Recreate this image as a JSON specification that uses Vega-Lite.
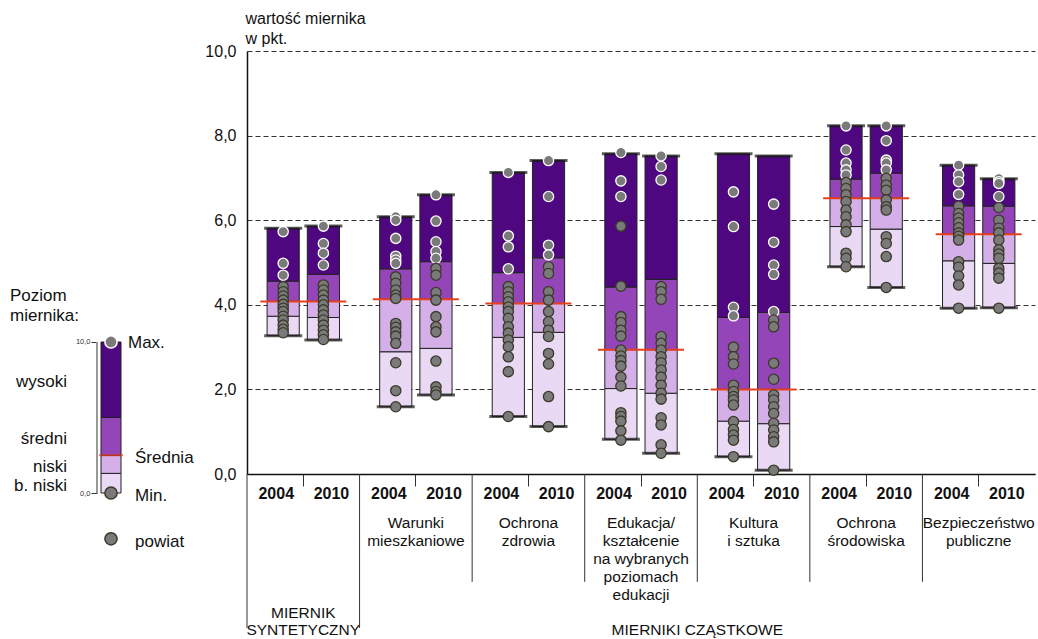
{
  "$schema": "https://vega.github.io/schema/vega-lite/v6.json",
  "padding": {"left": 10, "top": 10, "right": 2, "bottom": 0},
  "bounds": "flush",
  "spacing": 122,
  "config": {"font": "Liberation Sans", "view": {"stroke": null}, "text": {"color": "#111"}},
  "datasets": {
    "bars": [
      {"id": "G1-2004", "group": "Miernik syntetyczny", "year": "2004", "min": 3.27, "b1": 3.73, "mean": 4.08, "b3": 4.56, "max": 5.81},
      {"id": "G1-2010", "group": "Miernik syntetyczny", "year": "2010", "min": 3.17, "b1": 3.70, "mean": 4.08, "b3": 4.72, "max": 5.86},
      {"id": "G2-2004", "group": "Warunki mieszkaniowe", "year": "2004", "min": 1.59, "b1": 2.89, "mean": 4.13, "b3": 4.85, "max": 6.08},
      {"id": "G2-2010", "group": "Warunki mieszkaniowe", "year": "2010", "min": 1.87, "b1": 2.97, "mean": 4.13, "b3": 5.02, "max": 6.60},
      {"id": "G3-2004", "group": "Ochrona zdrowia", "year": "2004", "min": 1.36, "b1": 3.23, "mean": 4.03, "b3": 4.76, "max": 7.13},
      {"id": "G3-2010", "group": "Ochrona zdrowia", "year": "2010", "min": 1.12, "b1": 3.35, "mean": 4.03, "b3": 5.11, "max": 7.41},
      {"id": "G4-2004", "group": "Edukacja/kształcenie na wybranych poziomach edukacji", "year": "2004", "min": 0.82, "b1": 2.02, "mean": 2.94, "b3": 4.42, "max": 7.57},
      {"id": "G4-2010", "group": "Edukacja/kształcenie na wybranych poziomach edukacji", "year": "2010", "min": 0.49, "b1": 1.91, "mean": 2.94, "b3": 4.60, "max": 7.52},
      {"id": "G5-2004", "group": "Kultura i sztuka", "year": "2004", "min": 0.41, "b1": 1.25, "mean": 2.00, "b3": 3.70, "max": 7.57},
      {"id": "G5-2010", "group": "Kultura i sztuka", "year": "2010", "min": 0.09, "b1": 1.19, "mean": 2.00, "b3": 3.82, "max": 7.52},
      {"id": "G6-2004", "group": "Ochrona środowiska", "year": "2004", "min": 4.90, "b1": 5.85, "mean": 6.52, "b3": 6.97, "max": 8.23},
      {"id": "G6-2010", "group": "Ochrona środowiska", "year": "2010", "min": 4.41, "b1": 5.79, "mean": 6.52, "b3": 7.11, "max": 8.23},
      {"id": "G7-2004", "group": "Bezpieczeństwo publiczne", "year": "2004", "min": 3.92, "b1": 5.04, "mean": 5.67, "b3": 6.34, "max": 7.30},
      {"id": "G7-2010", "group": "Bezpieczeństwo publiczne", "year": "2010", "min": 3.93, "b1": 4.98, "mean": 5.67, "b3": 6.33, "max": 6.98}
    ],
    "groups": [
      {"group": "Miernik syntetyczny", "label": ["MIERNIK", "SYNTETYCZNY"]},
      {"group": "Warunki mieszkaniowe", "label": ["Warunki", "mieszkaniowe"]},
      {"group": "Ochrona zdrowia", "label": ["Ochrona", "zdrowia"]},
      {"group": "Edukacja/kształcenie na wybranych poziomach edukacji", "label": ["Edukacja/", "kształcenie", "na wybranych", "poziomach", "edukacji"]},
      {"group": "Kultura i sztuka", "label": ["Kultura", "i sztuka"]},
      {"group": "Ochrona środowiska", "label": ["Ochrona", "środowiska"]},
      {"group": "Bezpieczeństwo publiczne", "label": ["Bezpieczeństwo", "publiczne"]}
    ],
    "sections": [{"section": "MIERNIKI CZĄSTKOWE"}],
    "points": [
      {"id": "G1-2004", "v": 5.73}, {"id": "G1-2004", "v": 4.98}, {"id": "G1-2004", "v": 4.70}, {"id": "G1-2004", "v": 4.43}, {"id": "G1-2004", "v": 4.31}, {"id": "G1-2004", "v": 4.21}, {"id": "G1-2004", "v": 4.11}, {"id": "G1-2004", "v": 4.01}, {"id": "G1-2004", "v": 3.92}, {"id": "G1-2004", "v": 3.84}, {"id": "G1-2004", "v": 3.73}, {"id": "G1-2004", "v": 3.64}, {"id": "G1-2004", "v": 3.52}, {"id": "G1-2004", "v": 3.42}, {"id": "G1-2004", "v": 3.34},
      {"id": "G1-2010", "v": 5.86}, {"id": "G1-2010", "v": 5.45}, {"id": "G1-2010", "v": 5.22}, {"id": "G1-2010", "v": 4.94}, {"id": "G1-2010", "v": 4.47}, {"id": "G1-2010", "v": 4.35}, {"id": "G1-2010", "v": 4.23}, {"id": "G1-2010", "v": 4.11}, {"id": "G1-2010", "v": 4.00}, {"id": "G1-2010", "v": 3.88}, {"id": "G1-2010", "v": 3.76}, {"id": "G1-2010", "v": 3.64}, {"id": "G1-2010", "v": 3.52}, {"id": "G1-2010", "v": 3.40}, {"id": "G1-2010", "v": 3.29}, {"id": "G1-2010", "v": 3.18},
      {"id": "G2-2004", "v": 6.08}, {"id": "G2-2004", "v": 6.00}, {"id": "G2-2004", "v": 5.57}, {"id": "G2-2004", "v": 5.15}, {"id": "G2-2004", "v": 5.06}, {"id": "G2-2004", "v": 4.98}, {"id": "G2-2004", "v": 4.66}, {"id": "G2-2004", "v": 4.51}, {"id": "G2-2004", "v": 4.35}, {"id": "G2-2004", "v": 4.23}, {"id": "G2-2004", "v": 4.15}, {"id": "G2-2004", "v": 3.56}, {"id": "G2-2004", "v": 3.47}, {"id": "G2-2004", "v": 3.36}, {"id": "G2-2004", "v": 3.26}, {"id": "G2-2004", "v": 3.09}, {"id": "G2-2004", "v": 2.63}, {"id": "G2-2004", "v": 1.97}, {"id": "G2-2004", "v": 1.59},
      {"id": "G2-2010", "v": 6.60}, {"id": "G2-2010", "v": 5.98}, {"id": "G2-2010", "v": 5.49}, {"id": "G2-2010", "v": 5.26}, {"id": "G2-2010", "v": 5.10}, {"id": "G2-2010", "v": 4.86}, {"id": "G2-2010", "v": 4.70}, {"id": "G2-2010", "v": 4.29}, {"id": "G2-2010", "v": 4.11}, {"id": "G2-2010", "v": 3.72}, {"id": "G2-2010", "v": 3.48}, {"id": "G2-2010", "v": 3.36}, {"id": "G2-2010", "v": 2.67}, {"id": "G2-2010", "v": 2.06}, {"id": "G2-2010", "v": 1.95}, {"id": "G2-2010", "v": 1.87},
      {"id": "G3-2004", "v": 7.13}, {"id": "G3-2004", "v": 5.63}, {"id": "G3-2004", "v": 5.37}, {"id": "G3-2004", "v": 4.85}, {"id": "G3-2004", "v": 4.43}, {"id": "G3-2004", "v": 4.31}, {"id": "G3-2004", "v": 4.19}, {"id": "G3-2004", "v": 4.07}, {"id": "G3-2004", "v": 3.95}, {"id": "G3-2004", "v": 3.84}, {"id": "G3-2004", "v": 3.68}, {"id": "G3-2004", "v": 3.48}, {"id": "G3-2004", "v": 3.33}, {"id": "G3-2004", "v": 3.17}, {"id": "G3-2004", "v": 3.01}, {"id": "G3-2004", "v": 2.77}, {"id": "G3-2004", "v": 2.42}, {"id": "G3-2004", "v": 1.36},
      {"id": "G3-2010", "v": 7.41}, {"id": "G3-2010", "v": 6.56}, {"id": "G3-2010", "v": 5.41}, {"id": "G3-2010", "v": 5.18}, {"id": "G3-2010", "v": 4.90}, {"id": "G3-2010", "v": 4.74}, {"id": "G3-2010", "v": 4.31}, {"id": "G3-2010", "v": 4.11}, {"id": "G3-2010", "v": 3.84}, {"id": "G3-2010", "v": 3.60}, {"id": "G3-2010", "v": 3.40}, {"id": "G3-2010", "v": 3.25}, {"id": "G3-2010", "v": 2.85}, {"id": "G3-2010", "v": 2.60}, {"id": "G3-2010", "v": 1.83}, {"id": "G3-2010", "v": 1.12},
      {"id": "G4-2004", "v": 7.60}, {"id": "G4-2004", "v": 6.93}, {"id": "G4-2004", "v": 6.56}, {"id": "G4-2004", "v": 5.86}, {"id": "G4-2004", "v": 4.44}, {"id": "G4-2004", "v": 3.72}, {"id": "G4-2004", "v": 3.58}, {"id": "G4-2004", "v": 3.40}, {"id": "G4-2004", "v": 3.26}, {"id": "G4-2004", "v": 2.93}, {"id": "G4-2004", "v": 2.79}, {"id": "G4-2004", "v": 2.68}, {"id": "G4-2004", "v": 2.55}, {"id": "G4-2004", "v": 2.29}, {"id": "G4-2004", "v": 2.08}, {"id": "G4-2004", "v": 1.45}, {"id": "G4-2004", "v": 1.36}, {"id": "G4-2004", "v": 1.25}, {"id": "G4-2004", "v": 1.02}, {"id": "G4-2004", "v": 0.80},
      {"id": "G4-2010", "v": 7.52}, {"id": "G4-2010", "v": 7.27}, {"id": "G4-2010", "v": 6.95}, {"id": "G4-2010", "v": 4.43}, {"id": "G4-2010", "v": 4.31}, {"id": "G4-2010", "v": 4.13}, {"id": "G4-2010", "v": 3.25}, {"id": "G4-2010", "v": 3.09}, {"id": "G4-2010", "v": 2.93}, {"id": "G4-2010", "v": 2.77}, {"id": "G4-2010", "v": 2.63}, {"id": "G4-2010", "v": 2.46}, {"id": "G4-2010", "v": 2.29}, {"id": "G4-2010", "v": 2.10}, {"id": "G4-2010", "v": 1.91}, {"id": "G4-2010", "v": 1.77}, {"id": "G4-2010", "v": 1.33}, {"id": "G4-2010", "v": 1.16}, {"id": "G4-2010", "v": 0.69}, {"id": "G4-2010", "v": 0.49},
      {"id": "G5-2004", "v": 6.67}, {"id": "G5-2004", "v": 5.85}, {"id": "G5-2004", "v": 3.94}, {"id": "G5-2004", "v": 3.74}, {"id": "G5-2004", "v": 3.00}, {"id": "G5-2004", "v": 2.77}, {"id": "G5-2004", "v": 2.60}, {"id": "G5-2004", "v": 2.10}, {"id": "G5-2004", "v": 1.95}, {"id": "G5-2004", "v": 1.83}, {"id": "G5-2004", "v": 1.75}, {"id": "G5-2004", "v": 1.63}, {"id": "G5-2004", "v": 1.24}, {"id": "G5-2004", "v": 1.05}, {"id": "G5-2004", "v": 0.92}, {"id": "G5-2004", "v": 0.80}, {"id": "G5-2004", "v": 0.41},
      {"id": "G5-2010", "v": 6.38}, {"id": "G5-2010", "v": 5.48}, {"id": "G5-2010", "v": 4.94}, {"id": "G5-2010", "v": 4.72}, {"id": "G5-2010", "v": 3.84}, {"id": "G5-2010", "v": 3.64}, {"id": "G5-2010", "v": 3.48}, {"id": "G5-2010", "v": 2.62}, {"id": "G5-2010", "v": 2.24}, {"id": "G5-2010", "v": 1.87}, {"id": "G5-2010", "v": 1.75}, {"id": "G5-2010", "v": 1.59}, {"id": "G5-2010", "v": 1.43}, {"id": "G5-2010", "v": 1.20}, {"id": "G5-2010", "v": 1.04}, {"id": "G5-2010", "v": 0.88}, {"id": "G5-2010", "v": 0.76}, {"id": "G5-2010", "v": 0.09},
      {"id": "G6-2004", "v": 8.23}, {"id": "G6-2004", "v": 7.66}, {"id": "G6-2004", "v": 7.35}, {"id": "G6-2004", "v": 7.19}, {"id": "G6-2004", "v": 7.07}, {"id": "G6-2004", "v": 6.89}, {"id": "G6-2004", "v": 6.75}, {"id": "G6-2004", "v": 6.60}, {"id": "G6-2004", "v": 6.44}, {"id": "G6-2004", "v": 6.24}, {"id": "G6-2004", "v": 6.08}, {"id": "G6-2004", "v": 5.89}, {"id": "G6-2004", "v": 5.73}, {"id": "G6-2004", "v": 5.22}, {"id": "G6-2004", "v": 5.10}, {"id": "G6-2004", "v": 4.90},
      {"id": "G6-2010", "v": 8.23}, {"id": "G6-2010", "v": 7.88}, {"id": "G6-2010", "v": 7.42}, {"id": "G6-2010", "v": 7.35}, {"id": "G6-2010", "v": 7.19}, {"id": "G6-2010", "v": 6.99}, {"id": "G6-2010", "v": 6.83}, {"id": "G6-2010", "v": 6.71}, {"id": "G6-2010", "v": 6.48}, {"id": "G6-2010", "v": 6.32}, {"id": "G6-2010", "v": 6.24}, {"id": "G6-2010", "v": 5.61}, {"id": "G6-2010", "v": 5.45}, {"id": "G6-2010", "v": 5.14}, {"id": "G6-2010", "v": 4.41},
      {"id": "G7-2004", "v": 7.30}, {"id": "G7-2004", "v": 7.07}, {"id": "G7-2004", "v": 6.91}, {"id": "G7-2004", "v": 6.61}, {"id": "G7-2004", "v": 6.33}, {"id": "G7-2004", "v": 6.16}, {"id": "G7-2004", "v": 6.05}, {"id": "G7-2004", "v": 5.94}, {"id": "G7-2004", "v": 5.82}, {"id": "G7-2004", "v": 5.70}, {"id": "G7-2004", "v": 5.62}, {"id": "G7-2004", "v": 5.53}, {"id": "G7-2004", "v": 5.02}, {"id": "G7-2004", "v": 4.89}, {"id": "G7-2004", "v": 4.68}, {"id": "G7-2004", "v": 4.47}, {"id": "G7-2004", "v": 3.92},
      {"id": "G7-2010", "v": 6.98}, {"id": "G7-2010", "v": 6.91}, {"id": "G7-2010", "v": 6.87}, {"id": "G7-2010", "v": 6.56}, {"id": "G7-2010", "v": 6.30}, {"id": "G7-2010", "v": 6.00}, {"id": "G7-2010", "v": 5.81}, {"id": "G7-2010", "v": 5.70}, {"id": "G7-2010", "v": 5.53}, {"id": "G7-2010", "v": 5.30}, {"id": "G7-2010", "v": 5.20}, {"id": "G7-2010", "v": 5.10}, {"id": "G7-2010", "v": 4.86}, {"id": "G7-2010", "v": 4.75}, {"id": "G7-2010", "v": 4.63}, {"id": "G7-2010", "v": 3.92}
    ],
    "legendSegments": [
      {"level": "b. niski", "lo": 0, "hi": 1.3},
      {"level": "niski", "lo": 1.3, "hi": 2.5},
      {"level": "średni", "lo": 2.5, "hi": 5},
      {"level": "wysoki", "lo": 5, "hi": 10}
    ],
    "legendItems": [
      {"item": "Max.", "v": 10},
      {"item": "Średnia", "v": 2.5},
      {"item": "Min.", "v": 0},
      {"item": "powiat", "v": -3.03}
    ],
    "legendTitle": [{"title": ["Poziom", "miernika:"]}]
  },
  "hconcat": [
    {
      "width": 28,
      "height": 442,
      "layer": [
        {
          "data": {"name": "legendSegments"},
          "mark": {"type": "bar", "stroke": "#222", "strokeWidth": 1},
          "encoding": {
            "x": {"datum": "legenda", "type": "nominal", "scale": {"paddingInner": 0, "paddingOuter": 0.2}, "axis": null},
            "y": {"field": "lo", "type": "quantitative", "scale": {"domain": [0, 29.27], "nice": false, "zero": false},
              "axis": {"values": [0, 10], "labelExpr": "replace(format(datum.value, '.1f'), '.', ',')", "domain": false, "grid": false, "tickSize": 6, "tickColor": "#333", "labelFontSize": 7.5, "labelColor": "#333", "labelPadding": 1, "title": null}},
            "y2": {"field": "hi"},
            "color": {"field": "level", "type": "nominal", "scale": {"domain": ["b. niski", "niski", "średni", "wysoki"], "range": ["#ead9f5", "#d5b0e8", "#9446b8", "#4f0780"]}, "legend": null}
          }
        },
        {
          "data": {"name": "legendSegments"},
          "mark": {"type": "rule", "color": "#999", "strokeWidth": 2},
          "encoding": {
            "x": {"datum": "legenda", "type": "nominal", "bandPosition": -0.2},
            "y": {"field": "lo", "type": "quantitative", "aggregate": "min"},
            "y2": {"field": "hi", "aggregate": "max"}
          }
        },
        {
          "data": {"name": "legendItems"},
          "transform": [{"filter": "datum.item === 'Średnia'"}],
          "mark": {"type": "tick", "color": "#e8401c", "size": 24, "thickness": 2},
          "encoding": {
            "x": {"datum": "legenda", "type": "nominal"},
            "y": {"field": "v", "type": "quantitative"}
          }
        },
        {
          "data": {"name": "legendItems"},
          "transform": [{"filter": "datum.item !== 'Średnia'"}],
          "mark": {"type": "circle", "size": 150, "fill": "#7a7a7a", "fillOpacity": 1, "strokeWidth": 1.5},
          "encoding": {
            "x": {"datum": "legenda", "type": "nominal"},
            "y": {"field": "v", "type": "quantitative"},
            "stroke": {"condition": {"test": "datum.item === 'Max.'", "value": "#ffffff"}, "value": "#3a3a28"}
          }
        },
        {
          "data": {"name": "legendItems"},
          "transform": [{"filter": "datum.item === 'Max.'"}],
          "mark": {"type": "text", "align": "left", "baseline": "middle", "fontSize": 17, "dx": 7, "dy": 1},
          "encoding": {
            "x": {"datum": "legenda", "type": "nominal", "bandPosition": 1},
            "y": {"field": "v", "type": "quantitative"},
            "text": {"field": "item"}
          }
        },
        {
          "data": {"name": "legendItems"},
          "transform": [{"filter": "datum.item !== 'Max.'"}],
          "mark": {"type": "text", "align": "left", "baseline": "middle", "fontSize": 17, "dx": 14, "dy": 3},
          "encoding": {
            "x": {"datum": "legenda", "type": "nominal", "bandPosition": 1},
            "y": {"field": "v", "type": "quantitative"},
            "text": {"field": "item"}
          }
        },
        {
          "data": {"name": "legendSegments"},
          "transform": [{"fold": ["lo", "hi"], "as": ["bound", "value"]}],
          "mark": {"type": "text", "align": "right", "baseline": "middle", "fontSize": 17, "dx": -34, "dy": 2.5},
          "encoding": {
            "x": {"datum": "legenda", "type": "nominal", "bandPosition": 0},
            "y": {"field": "value", "type": "quantitative", "aggregate": "mean"},
            "text": {"field": "level", "type": "nominal"}
          }
        },
        {
          "data": {"name": "legendTitle"},
          "mark": {"type": "text", "align": "left", "baseline": "alphabetic", "fontSize": 17, "lineHeight": 20, "dx": -91},
          "encoding": {
            "x": {"datum": "legenda", "type": "nominal", "bandPosition": 0},
            "y": {"datum": 12.73, "type": "quantitative"},
            "text": {"field": "title"}
          }
        }
      ]
    },
    {
      "width": 788,
      "height": 423,
      "layer": [
        {
          "data": {"name": "bars"},
          "mark": {"type": "bar", "fill": "#ead9f5", "stroke": "#222", "strokeWidth": 1},
          "encoding": {
            "x": {"field": "group", "type": "nominal",
              "scale": {"domain": ["Miernik syntetyczny", "Warunki mieszkaniowe", "Ochrona zdrowia", "Edukacja/kształcenie na wybranych poziomach edukacji", "Kultura i sztuka", "Ochrona środowiska", "Bezpieczeństwo publiczne"], "paddingInner": 0, "paddingOuter": 0},
              "axis": {"labels": false, "title": null, "tickSize": 12, "tickColor": "#333", "domainColor": "#111", "domainWidth": 1.5, "grid": false}},
            "xOffset": {"field": "year", "type": "nominal", "scale": {"domain": ["2004", "2010"], "paddingInner": 0.2, "paddingOuter": 0.5}},
            "y": {"field": "min", "type": "quantitative", "scale": {"domain": [0, 10], "nice": false, "zero": false},
              "axis": {"values": [0, 2, 4, 6, 8, 10], "labelExpr": "replace(format(datum.value, '.1f'), '.', ',')", "grid": true, "gridDash": [5, 3], "gridColor": "#333", "gridWidth": 1, "ticks": false, "labelPadding": 11, "labelFontSize": 16, "labelColor": "#111", "domainColor": "#111", "domainWidth": 1.5,
                "title": ["wartość miernika", "w pkt."], "titleAngle": 0, "titleAlign": "left", "titleBaseline": "alphabetic", "titleX": -2, "titleY": -28, "titleFontSize": 16, "titleFontWeight": "normal", "titleLineHeight": 20, "titleColor": "#111"}},
            "y2": {"field": "b1"}
          }
        },
        {
          "data": {"name": "bars"},
          "mark": {"type": "bar", "fill": "#d5b0e8", "stroke": "#222", "strokeWidth": 1},
          "encoding": {
            "x": {"field": "group", "type": "nominal"},
            "xOffset": {"field": "year", "type": "nominal"},
            "y": {"field": "b1", "type": "quantitative"},
            "y2": {"field": "mean"}
          }
        },
        {
          "data": {"name": "bars"},
          "mark": {"type": "bar", "fill": "#9446b8", "stroke": "#222", "strokeWidth": 1},
          "encoding": {
            "x": {"field": "group", "type": "nominal"},
            "xOffset": {"field": "year", "type": "nominal"},
            "y": {"field": "mean", "type": "quantitative"},
            "y2": {"field": "b3"}
          }
        },
        {
          "data": {"name": "bars"},
          "mark": {"type": "bar", "fill": "#4f0780", "stroke": "#222", "strokeWidth": 1},
          "encoding": {
            "x": {"field": "group", "type": "nominal"},
            "xOffset": {"field": "year", "type": "nominal"},
            "y": {"field": "b3", "type": "quantitative"},
            "y2": {"field": "max"}
          }
        },
        {
          "data": {"name": "bars"},
          "mark": {"type": "tick", "color": "#e8401c", "size": 86, "thickness": 2},
          "encoding": {
            "x": {"field": "group", "type": "nominal"},
            "y": {"field": "mean", "type": "quantitative", "aggregate": "mean"}
          }
        },
        {
          "data": {"name": "bars"},
          "mark": {"type": "tick", "color": "#1a1a1a", "size": 38, "thickness": 3},
          "encoding": {
            "x": {"field": "group", "type": "nominal"},
            "xOffset": {"field": "year", "type": "nominal"},
            "y": {"field": "max", "type": "quantitative"}
          }
        },
        {
          "data": {"name": "bars"},
          "mark": {"type": "tick", "color": "#1a1a1a", "size": 38, "thickness": 3},
          "encoding": {
            "x": {"field": "group", "type": "nominal"},
            "xOffset": {"field": "year", "type": "nominal"},
            "y": {"field": "min", "type": "quantitative"}
          }
        },
        {
          "data": {"name": "points"},
          "transform": [{"lookup": "id", "from": {"data": {"name": "bars"}, "key": "id", "fields": ["group", "year", "b3"]}}],
          "mark": {"type": "circle", "size": 105, "fill": "#7a7a7a", "fillOpacity": 1, "strokeWidth": 1.3},
          "encoding": {
            "x": {"field": "group", "type": "nominal"},
            "xOffset": {"field": "year", "type": "nominal"},
            "y": {"field": "v", "type": "quantitative"},
            "stroke": {"condition": {"test": "datum.v > datum.b3 && !(datum.id === 'G4-2004' && datum.v < 6)", "value": "#ffffff"}, "value": "#3a3a28"}
          }
        },
        {
          "data": {"name": "bars"},
          "transform": [{"filter": "datum.year === '2004'"}],
          "mark": {"type": "text", "fontSize": 16, "fontWeight": "bold", "baseline": "middle"},
          "encoding": {
            "x": {"field": "group", "type": "nominal", "bandPosition": 0.26},
            "y": {"datum": -0.47, "type": "quantitative"},
            "text": {"field": "year", "type": "nominal"}
          }
        },
        {
          "data": {"name": "bars"},
          "transform": [{"filter": "datum.year === '2010'"}],
          "mark": {"type": "text", "fontSize": 16, "fontWeight": "bold", "baseline": "middle"},
          "encoding": {
            "x": {"field": "group", "type": "nominal", "bandPosition": 0.75},
            "y": {"datum": -0.47, "type": "quantitative"},
            "text": {"field": "year", "type": "nominal"}
          }
        },
        {
          "data": {"name": "groups"},
          "transform": [{"filter": "datum.group !== 'Miernik syntetyczny'"}],
          "mark": {"type": "text", "fontSize": 15.5, "baseline": "alphabetic", "lineHeight": 18, "align": "center"},
          "encoding": {
            "x": {"field": "group", "type": "nominal"},
            "y": {"datum": -1.277, "type": "quantitative"},
            "text": {"field": "label"}
          }
        },
        {
          "data": {"name": "groups"},
          "transform": [{"filter": "datum.group === 'Miernik syntetyczny'"}],
          "mark": {"type": "text", "fontSize": 15.5, "baseline": "alphabetic", "lineHeight": 17, "align": "center"},
          "encoding": {
            "x": {"field": "group", "type": "nominal"},
            "y": {"datum": -3.40, "type": "quantitative"},
            "text": {"field": "label"}
          }
        },
        {
          "data": {"name": "sections"},
          "mark": {"type": "text", "fontSize": 15.5, "baseline": "alphabetic", "align": "center"},
          "encoding": {
            "x": {"datum": "Edukacja/kształcenie na wybranych poziomach edukacji", "type": "nominal", "bandPosition": 1},
            "y": {"datum": -3.80, "type": "quantitative"},
            "text": {"field": "section"}
          }
        },
        {
          "data": {"name": "groups"},
          "transform": [{"filter": "datum.group === 'Miernik syntetyczny' || datum.group === 'Warunki mieszkaniowe'"}],
          "mark": {"type": "rule", "color": "#333", "strokeWidth": 1},
          "encoding": {
            "x": {"field": "group", "type": "nominal", "bandPosition": 0},
            "y": {"datum": 0, "type": "quantitative"},
            "y2": {"datum": -3.64}
          }
        },
        {
          "data": {"name": "groups"},
          "transform": [{"filter": "datum.group !== 'Miernik syntetyczny' && datum.group !== 'Warunki mieszkaniowe'"}],
          "mark": {"type": "rule", "color": "#333", "strokeWidth": 1},
          "encoding": {
            "x": {"field": "group", "type": "nominal", "bandPosition": 0},
            "y": {"datum": 0, "type": "quantitative"},
            "y2": {"datum": -2.55}
          }
        }
      ]
    }
  ]
}
